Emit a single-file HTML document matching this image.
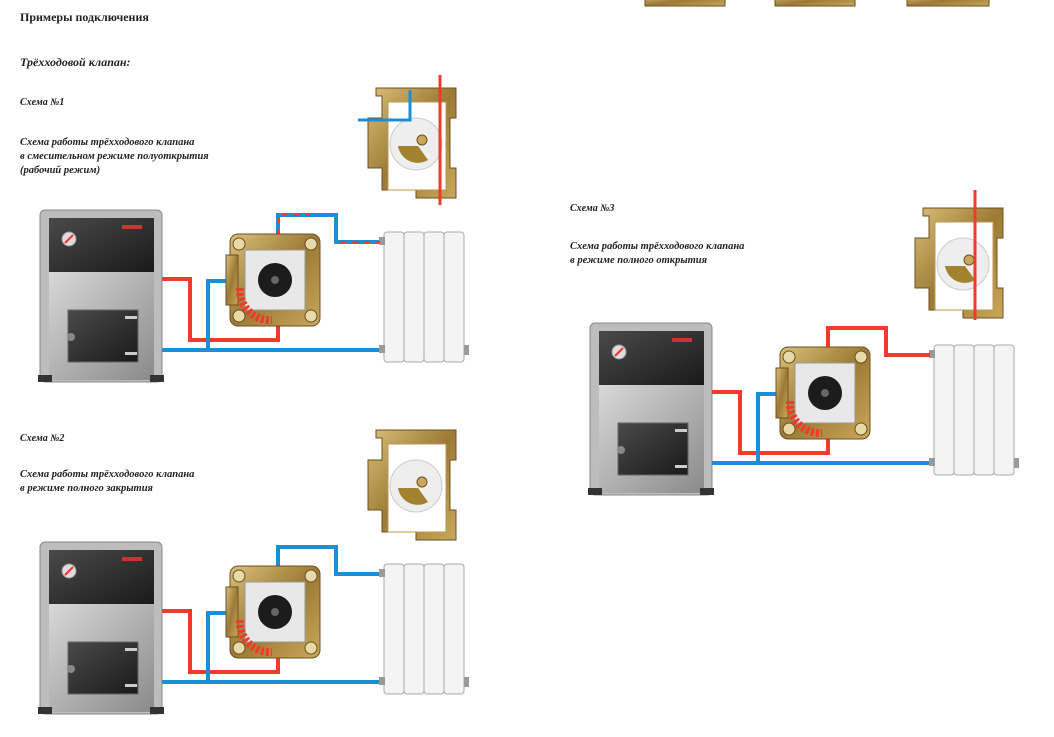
<!DOCTYPE html>
<html><head><meta charset="utf-8"><style>
body{margin:0;width:1054px;height:737px;background:#fff;overflow:hidden;position:relative;font-family:"Liberation Serif",serif;}
.t{position:absolute;color:#222;font-weight:bold;font-style:italic;font-size:10.5px;line-height:14px;}
</style></head><body>
<svg width="1054" height="737" style="position:absolute;left:0;top:0">
<defs>
<linearGradient id="gold" x1="0" y1="0" x2="1" y2="1"><stop offset="0" stop-color="#d9c07a"/><stop offset=".5" stop-color="#9c7a35"/><stop offset="1" stop-color="#c9a75a"/></linearGradient>
<linearGradient id="gray" x1="0" y1="0" x2="1" y2="1"><stop offset="0" stop-color="#d8d8d8"/><stop offset="1" stop-color="#8a8a8a"/></linearGradient>
<linearGradient id="dark" x1="0" y1="0" x2="1" y2="1"><stop offset="0" stop-color="#4a4a4a"/><stop offset="1" stop-color="#1a1a1a"/></linearGradient>
<g id="sys">
 <rect x="0" y="0" width="122" height="172" rx="5" fill="#bdbdbd" stroke="#888"/>
 <rect x="9" y="8" width="105" height="54" fill="url(#dark)"/>
 <rect x="9" y="62" width="105" height="108" fill="url(#gray)"/>
 <rect x="28" y="100" width="70" height="52" fill="url(#dark)" stroke="#666"/>
 <rect x="85" y="106" width="12" height="3" fill="#ccc"/><rect x="85" y="142" width="12" height="3" fill="#ccc"/>
 <circle cx="31" cy="127" r="4" fill="#888"/>
 <circle cx="29" cy="29" r="7" fill="#ddd" stroke="#999"/><path d="M25 33 L33 25" stroke="#e33" stroke-width="2"/>
 <rect x="82" y="15" width="20" height="4" fill="#c33"/>
 <rect x="-2" y="165" width="14" height="7" fill="#333"/><rect x="110" y="165" width="14" height="7" fill="#333"/>
 <path d="M122 69 H150 V130 H238 V108" fill="none" stroke="#ee3b2b" stroke-width="4"/>
 <path d="M122 140 H344" fill="none" stroke="#1b8fd6" stroke-width="4"/>
 <path d="M168 140 V71 H190" fill="none" stroke="#1b8fd6" stroke-width="4"/>
 <path d="M238 25 V5 H296 V32 H340" fill="none" stroke="#1b8fd6" stroke-width="4"/>
 <rect x="190" y="24" width="90" height="92" rx="8" fill="url(#gold)" stroke="#6b5020"/>
 <rect x="186" y="45" width="12" height="50" fill="url(#gold)" stroke="#6b5020"/>
 <circle cx="199" cy="34" r="6" fill="#e8d9a8" stroke="#6b5020"/><circle cx="271" cy="34" r="6" fill="#e8d9a8" stroke="#6b5020"/>
 <circle cx="199" cy="106" r="6" fill="#e8d9a8" stroke="#6b5020"/><circle cx="271" cy="106" r="6" fill="#e8d9a8" stroke="#6b5020"/>
 <path d="M205 40 H265 V100 H205 Z" fill="#e8e8e8" stroke="#999"/>
 <path d="M200 78 A30 30 0 0 0 232 110" fill="none" stroke="#ee3b2b" stroke-width="8" stroke-dasharray="3 2"/>
 <circle cx="235" cy="70" r="17" fill="#1c1c1c"/><circle cx="235" cy="70" r="4" fill="#666"/>
 <g fill="#f4f4f4" stroke="#aaa">
 <rect x="344" y="22" width="20" height="130" rx="3"/><rect x="364" y="22" width="20" height="130" rx="3"/>
 <rect x="384" y="22" width="20" height="130" rx="3"/><rect x="404" y="22" width="20" height="130" rx="3"/>
 </g>
 <rect x="339" y="27" width="6" height="8" fill="#999"/><rect x="339" y="135" width="6" height="8" fill="#999"/><rect x="424" y="135" width="5" height="10" fill="#999"/>
</g>
<g id="vsmall">
 <path d="M18 10 H98 V40 H92 V90 H98 V120 H58 V112 H24 V90 H10 V40 H24 V18 H18 Z" fill="url(#gold)" stroke="#6b5020"/>
 <path d="M30 24 H88 V112 H30 Z" fill="#fff" stroke="#b89a50"/>
 <circle cx="58" cy="66" r="26" fill="#eee" stroke="#ccc"/>
 <path d="M40 68 A20 20 0 0 0 70 82 L60 68 Z" fill="#a2812f"/>
 <circle cx="64" cy="62" r="5" fill="#c9a75a" stroke="#6b5020"/>
</g>
</defs>
<use href="#sys" x="40" y="210"/>
<path d="M278 235 V215 H310" fill="none" stroke="#ee3b2b" stroke-width="2" stroke-dasharray="6 6"/>
<path d="M340 242 H380" fill="none" stroke="#ee3b2b" stroke-width="2" stroke-dasharray="6 6"/>
<use href="#sys" x="40" y="542"/>
<use href="#sys" x="590" y="323"/>
<path d="M828 348 V328 H886 V355 H930" fill="none" stroke="#ee3b2b" stroke-width="4"/>
<use href="#vsmall" x="358" y="78"/>
<path d="M358 120 H410 V90" fill="none" stroke="#1b8fd6" stroke-width="3"/>
<path d="M440 75 V205" stroke="#ee3b2b" stroke-width="3"/>
<use href="#vsmall" x="358" y="420"/>
<use href="#vsmall" x="905" y="198"/>
<path d="M975 190 V320" stroke="#ee3b2b" stroke-width="3"/>
<g fill="url(#gold)" stroke="#6b5020"><rect x="645" y="-6" width="80" height="12"/><rect x="775" y="-6" width="80" height="12"/><rect x="907" y="-6" width="82" height="12"/></g>
</svg>
<div class="t" style="left:20px;top:10px;font-style:normal;font-size:12px;">Примеры подключения</div>
<div class="t" style="left:20px;top:55px;font-size:12px;">Трёхходовой клапан:</div>
<div class="t" style="left:20px;top:96px;font-size:10px;">Схема №1</div>
<div class="t" style="left:20px;top:136px;">Схема работы трёхходового клапана<br>в смесительном режиме полуоткрытия<br>(рабочий режим)</div>
<div class="t" style="left:20px;top:432px;font-size:10px;">Схема №2</div>
<div class="t" style="left:20px;top:468px;">Схема работы трёхходового клапана<br>в режиме полного закрытия</div>
<div class="t" style="left:570px;top:202px;font-size:10px;">Схема №3</div>
<div class="t" style="left:570px;top:240px;">Схема работы трёхходового клапана<br>в режиме полного открытия</div>
</body></html>
